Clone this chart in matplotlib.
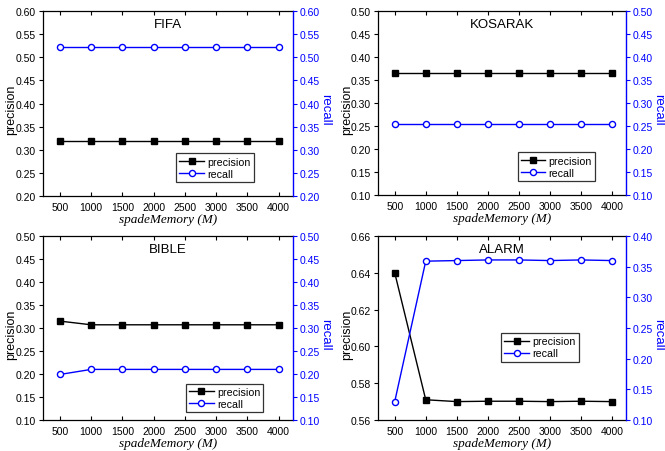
import matplotlib
matplotlib.use("Agg")
import matplotlib.pyplot as plt
from matplotlib.lines import Line2D
from matplotlib.ticker import MultipleLocator, FormatStrFormatter

plt.rcParams['font.family'] = ['Liberation Sans', 'DejaVu Sans']

memory = [500, 1000, 1500, 2000, 2500, 3000, 3500, 4000]

fifa_precision = [0.320, 0.320, 0.320, 0.320, 0.320, 0.320, 0.320, 0.320]
fifa_recall = [0.523, 0.523, 0.523, 0.523, 0.523, 0.523, 0.523, 0.523]

kosarak_precision = [0.365, 0.365, 0.365, 0.365, 0.365, 0.365, 0.365, 0.365]
kosarak_recall = [0.255, 0.255, 0.255, 0.255, 0.255, 0.255, 0.255, 0.255]

bible_precision = [0.315, 0.307, 0.307, 0.307, 0.307, 0.307, 0.307, 0.307]
bible_recall = [0.199, 0.210, 0.210, 0.210, 0.210, 0.210, 0.210, 0.210]

alarm_precision = [0.640, 0.5710, 0.5700, 0.5702, 0.5702, 0.5700, 0.5702, 0.5700]
alarm_recall = [0.130, 0.359, 0.360, 0.361, 0.361, 0.360, 0.361, 0.360]

BLUE = '#0000ff'

panels = [
    dict(name='FIFA', prec=fifa_precision, rec=fifa_recall,
         rect=[0.0647, 0.5642, 0.376, 0.409],
         ylim=(0.20, 0.60), ystep=0.05, y2lim=(0.20, 0.60), y2step=0.05,
         leg=(0.532, 0.076)),
    dict(name='KOSARAK', prec=kosarak_precision, rec=kosarak_recall,
         rect=[0.5684, 0.5664, 0.373, 0.407],
         ylim=(0.10, 0.50), ystep=0.05, y2lim=(0.10, 0.50), y2step=0.05,
         leg=(0.563, 0.076)),
    dict(name='BIBLE', prec=bible_precision, rec=bible_recall,
         rect=[0.0647, 0.0686, 0.376, 0.407],
         ylim=(0.10, 0.50), ystep=0.05, y2lim=(0.10, 0.50), y2step=0.05,
         leg=(0.571, 0.043)),
    dict(name='ALARM', prec=alarm_precision, rec=alarm_recall,
         rect=[0.5684, 0.0686, 0.373, 0.407],
         ylim=(0.56, 0.66), ystep=0.02, y2lim=(0.10, 0.40), y2step=0.05,
         leg=(0.496, 0.317)),
]

fig = plt.figure(figsize=(6.65, 4.52), dpi=100)

for p in panels:
    ax = fig.add_axes(p['rect'])
    ax2 = ax.twinx()

    ax.plot(memory, p['prec'], color='black', lw=1.0, marker='s',
            markersize=4.4, markerfacecolor='black', markeredgecolor='black',
            zorder=3)
    ax2.plot(memory, p['rec'], color=BLUE, lw=1.0, marker='o',
             markersize=4.4, markerfacecolor='white', markeredgecolor=BLUE,
             markeredgewidth=1.0, zorder=3)

    ax.set_xlim(230, 4230)
    ax.set_xticks(memory)
    ax.set_ylim(*p['ylim'])
    ax.yaxis.set_major_locator(MultipleLocator(p['ystep']))
    ax.yaxis.set_major_formatter(FormatStrFormatter('%.2f'))
    ax2.set_ylim(*p['y2lim'])
    ax2.yaxis.set_major_locator(MultipleLocator(p['y2step']))
    ax2.yaxis.set_major_formatter(FormatStrFormatter('%.2f'))

    ax.tick_params(axis='x', direction='in', length=3, width=0.8,
                   top=True, labelsize=7.5, pad=4)
    ax.tick_params(axis='y', direction='out', length=3, width=0.8,
                   labelsize=7.5, pad=2)
    ax2.tick_params(axis='y', direction='out', length=3, width=0.8,
                    labelsize=7.5, colors=BLUE, pad=2)

    for s in ['left', 'top', 'bottom']:
        ax.spines[s].set_linewidth(0.9)
    ax2.spines['right'].set_color(BLUE)
    ax2.spines['right'].set_linewidth(1.0)
    for s in ['left', 'top', 'bottom']:
        ax2.spines[s].set_visible(False)
    ax.spines['right'].set_visible(False)

    ax.set_ylabel('precision', fontsize=9, va='bottom')
    ax.yaxis.set_label_coords(-0.102, 0.47)
    ax2.set_ylabel('recall', fontsize=9.5, color=BLUE, rotation=-90,
                   va='bottom')
    ax2.yaxis.set_label_coords(1.104, 0.47)
    ax.set_xlabel('spadeMemory (M)', fontsize=9.5, style='italic',
                  family=['Liberation Serif', 'DejaVu Serif'], labelpad=1)

    ax.text(0.5, 0.93, p['name'], transform=ax.transAxes, ha='center',
            va='center', fontsize=9.5)

    handles = [
        Line2D([], [], color='black', lw=1.0, marker='s', markersize=4.4,
               markerfacecolor='black'),
        Line2D([], [], color=BLUE, lw=1.0, marker='o', markersize=4.4,
               markerfacecolor='white', markeredgecolor=BLUE),
    ]
    leg = ax2.legend(handles, ['precision', 'recall'], loc='lower left',
                     bbox_to_anchor=p['leg'], fontsize=7.7, frameon=True,
                     fancybox=False, edgecolor='black', handlelength=2.3,
                     handletextpad=0.3, labelspacing=0.2, borderpad=0.3,
                     borderaxespad=0)
    leg.get_frame().set_linewidth(0.9)

fig.savefig('out.png', dpi=100)
